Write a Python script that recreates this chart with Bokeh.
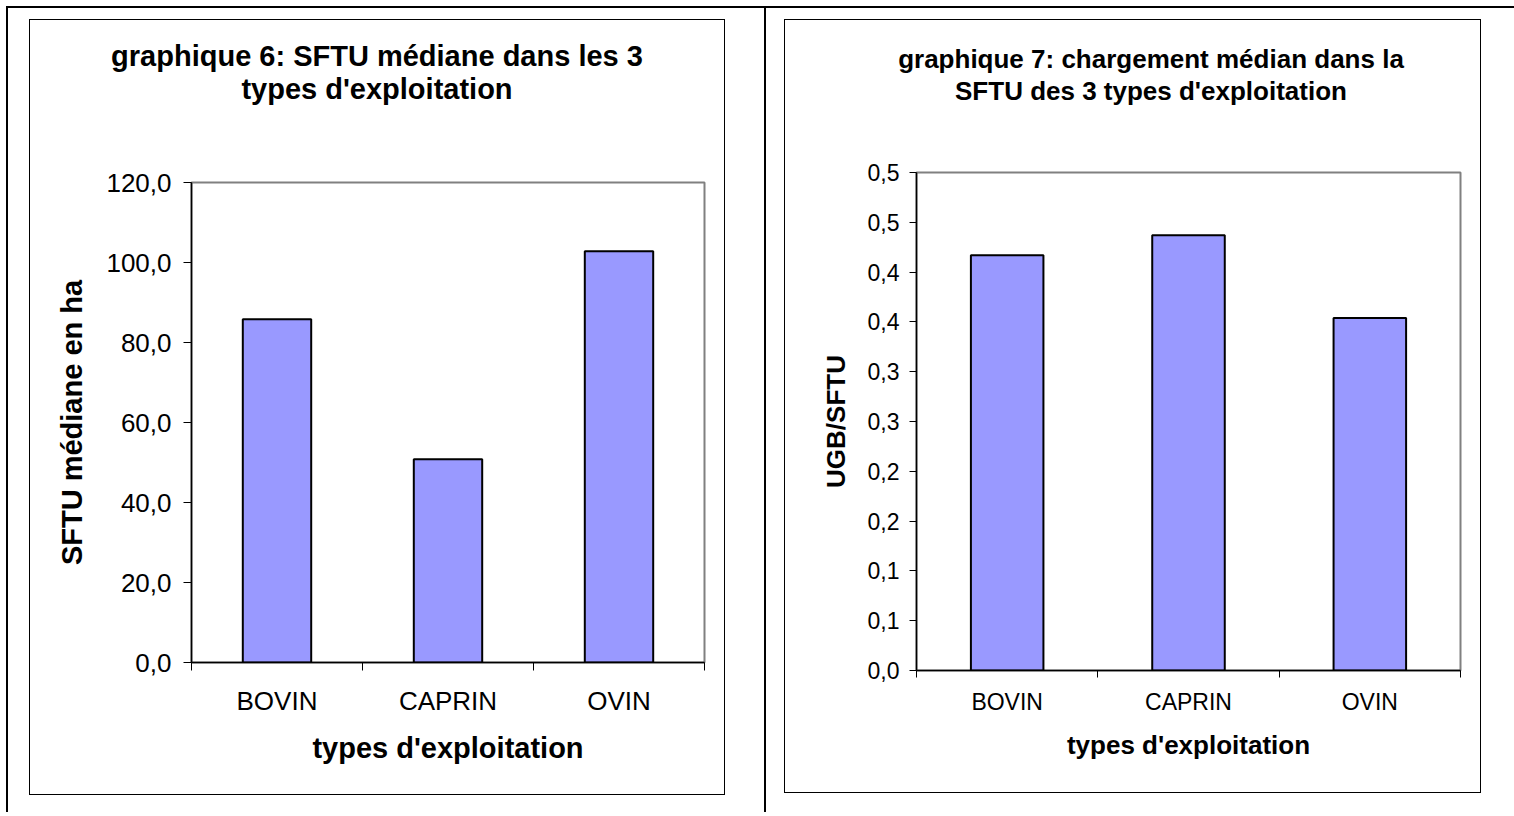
from bokeh.plotting import figure
from bokeh.layouts import row, column
from bokeh.models import Range1d, FixedTicker, Div, Spacer
from bokeh.embed import file_html
from bokeh.resources import INLINE

# ---------------- data ----------------
categories = ["BOVIN", "CAPRIN", "OVIN"]

sftu_values = [85.8, 50.8, 102.8]
sftu_ticks = [0, 20, 40, 60, 80, 100, 120]
sftu_tick_labels = ["0,0", "20,0", "40,0", "60,0", "80,0", "100,0", "120,0"]

charge_values = [0.417, 0.437, 0.354]
charge_ticks = [0.0, 0.05, 0.10, 0.15, 0.20, 0.25, 0.30, 0.35, 0.40, 0.45, 0.50]
charge_tick_labels = ["0,0", "0,1", "0,1", "0,2", "0,2", "0,3", "0,3", "0,4", "0,4", "0,5", "0,5"]

title6 = ["graphique 6: SFTU médiane dans les 3", "types d'exploitation"]
title7 = ["graphique 7: chargement médian dans la", "SFTU des 3 types d'exploitation"]
xlabel = "types d'exploitation"
ylabel6 = "SFTU médiane en ha"
ylabel7 = "UGB/SFTU"

FONT = "Liberation Sans"
BAR_FILL = "#9999FF"


def title_div(lines, width, height, size, line_h, pad_top, pad_left):
    html = (
        f'<div style="display: block; width: {width}px; box-sizing: border-box; '
        f'font-family: \'{FONT}\', Arial, sans-serif; font-weight: bold; '
        f'font-size: {size}px; line-height: {line_h}px; text-align: center; color: black; '
        f'padding-top: {pad_top}px; padding-left: {pad_left}px; margin: 0; '
        f'white-space: nowrap;">'
        + "<br>".join(lines) + "</div>"
    )
    return Div(text=html, width=width, height=height, margin=0,
               styles={"text-align": "center"})


def chart_figure(values, yticks, ytick_labels, ymax, ylabel,
                 frame_w, frame_h, b_left, b_right, b_top, b_bottom,
                 axis_title_size, tick_size, tick_out,
                 ytick_standoff, ylab_standoff, xtick_standoff, xlab_standoff):
    n = len(categories)
    centers = [i + 0.5 for i in range(n)]
    p = figure(frame_width=frame_w, frame_height=frame_h,
               x_range=Range1d(0, n), y_range=Range1d(0, ymax),
               output_backend="svg", toolbar_location=None, title=None,
               min_border_left=b_left, min_border_right=b_right,
               min_border_top=b_top, min_border_bottom=b_bottom)
    p.background_fill_color = "white"
    p.border_fill_color = "white"
    p.outline_line_color = "#808080"
    p.outline_line_width = 2
    p.xgrid.visible = False
    p.ygrid.visible = False

    p.vbar(x=centers, top=values, width=0.4, fill_color=BAR_FILL,
           line_color="black", line_width=2)

    # x axis: category names at centres, tick marks at the category boundaries
    xa = p.xaxis[0]
    xa.ticker = FixedTicker(ticks=centers, minor_ticks=list(range(n + 1)))
    xa.major_label_overrides = {c: cat for c, cat in zip(centers, categories)}
    xa.major_tick_line_color = None
    xa.major_tick_out = tick_out
    xa.major_tick_in = 0
    xa.minor_tick_line_color = "black"
    xa.minor_tick_out = tick_out
    xa.minor_tick_in = 0
    xa.axis_line_color = "black"
    xa.axis_line_width = 1.5
    xa.major_label_text_font = FONT
    xa.major_label_text_font_size = f"{tick_size}px"
    xa.major_label_text_color = "black"
    xa.major_label_standoff = xtick_standoff
    xa.axis_label = xlabel
    xa.axis_label_text_font = FONT
    xa.axis_label_text_font_style = "bold"
    xa.axis_label_text_font_size = f"{axis_title_size}px"
    xa.axis_label_text_color = "black"
    xa.axis_label_standoff = xlab_standoff

    ya = p.yaxis[0]
    ya.ticker = FixedTicker(ticks=yticks, minor_ticks=[])
    ya.major_label_overrides = {t: s for t, s in zip(yticks, ytick_labels)}
    ya.major_tick_line_color = "black"
    ya.major_tick_out = tick_out
    ya.major_tick_in = 0
    ya.minor_tick_line_color = None
    ya.axis_line_color = "black"
    ya.axis_line_width = 1.5
    ya.major_label_text_font = FONT
    ya.major_label_text_font_size = f"{tick_size}px"
    ya.major_label_text_color = "black"
    ya.major_label_standoff = ytick_standoff
    ya.axis_label = ylabel
    ya.axis_label_text_font = FONT
    ya.axis_label_text_font_style = "bold"
    ya.axis_label_text_font_size = f"{axis_title_size}px"
    ya.axis_label_text_color = "black"
    ya.axis_label_standoff = ylab_standoff
    return p


def black_line(w, h):
    return Div(text="", width=w, height=h, margin=0,
               styles={"background-color": "black"})


BOX = {"outline": "1.5px solid black"}

# chart box 6: page x 30..724, y 20..794 ; frame x 191..704, y 182..662
t6 = title_div(title6, 694, 122, 29, 33, 20, 0)
c6 = chart_figure(sftu_values, sftu_ticks, sftu_tick_labels, 120, ylabel6,
                  513, 480, 161, 20, 40, 132,
                  29, 26, 8, 12, 15, 15, 13)
cell6 = column(t6, c6, spacing=0, styles=BOX)

# chart box 7: page x 785..1480, y 20..792 ; frame x 916..1460, y 172..670
t7 = title_div(title7, 695, 112, 26, 32, 23, 37)
c7 = chart_figure(charge_values, charge_ticks, charge_tick_labels, 0.5, ylabel7,
                  544, 498, 131, 20, 40, 122,
                  26, 23, 7, 10, 14, 11, 12)
cell7 = column(t7, c7, spacing=0, styles=BOX)

body = row(
    Spacer(width=6, height=10),
    black_line(2, 804),
    Spacer(width=22, height=10),
    column(Spacer(width=10, height=12), cell6, spacing=0),
    Spacer(width=40, height=10),
    black_line(2, 804),
    Spacer(width=19, height=10),
    column(Spacer(width=10, height=12), cell7, spacing=0),
    spacing=0,
)

layout = column(
    Spacer(width=10, height=6),
    row(Spacer(width=6, height=2), black_line(1508, 2), spacing=0),
    body,
    spacing=0,
)

open("out.html", "w").write(file_html(layout, INLINE))
